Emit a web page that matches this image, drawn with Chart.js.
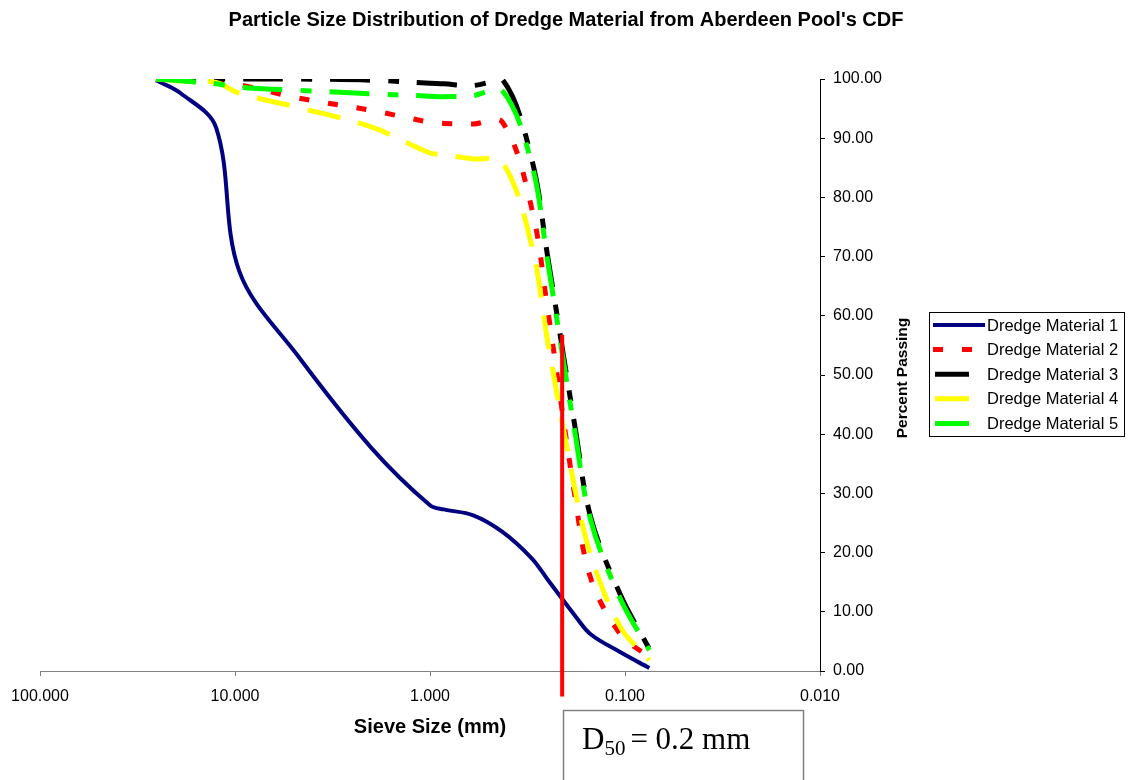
<!DOCTYPE html>
<html><head><meta charset="utf-8">
<script src="https://cdn.jsdelivr.net/npm/chart.js@4.4.0/dist/chart.umd.min.js"></script>
<style>html,body{margin:0;padding:0;background:#fff;} #wrap{position:relative;width:1132px;height:780px;}</style>
</head><body><div id="wrap"><canvas id="c" width="1132" height="780"></canvas></div>
<script>
// Sieve sizes (mm)
const sieveSizes = [25.4, 19.0, 12.5, 9.5, 4.75, 2.0, 1.0, 0.85, 0.6, 0.425, 0.3, 0.25, 0.18, 0.15, 0.106, 0.075];
// Percent passing per dredge material
const material1 = [99.8, 97.6, 91.8, 67.5, 53.2, 37.7, 28.0, 27.3, 26.3, 23.5, 19.0, 15.5, 9.3, 6.2, 3.2, 0.5];
const material2 = [100, 99.7, 99.3, 99.0, 96.8, 94.7, 92.7, 92.5, 92.4, 92.7, 78.0, 61.4, 29.2, 15.7, 6.3, 2.3];
const material3 = [100, 100, 100, 100, 100, 99.8, 99.3, 99.2, 98.9, 99.9, 86.3, 70.3, 41.0, 26.0, 13.0, 3.7];
const material4 = [100, 99.7, 99.4, 97.6, 95.2, 91.9, 87.5, 87.2, 86.5, 85.9, 71.7, 56.0, 30.5, 19.6, 7.5, 1.8];
const material5 = [100, 99.7, 99.2, 98.6, 98.1, 97.5, 97.1, 97.0, 97.2, 98.0, 85.5, 69.5, 40.0, 25.5, 12.3, 3.5];
const seriesNames = ['Dredge Material 1', 'Dredge Material 2', 'Dredge Material 3', 'Dredge Material 4', 'Dredge Material 5'];
// D50 marker line
const d50Size = [0.21, 0.21];
const d50Percent = [56.8, -4.3];
// Axis tick values
const xTickValues = [100, 10, 1, 0.1, 0.01];
const yTickMin = 0, yTickMax = 100, yTickStep = 10;

Chart.defaults.font.family = "'Liberation Sans', Arial, sans-serif";
Chart.defaults.color = '#000';

const toPts = (xs, ys) => xs.map((x, i) => ({x: x, y: ys[i]}));
const seriesData = [material1, material2, material3, material4, material5];
const seriesStyle = [
  {color: '#000080', width: 4, dash: []},
  {color: '#FF0000', width: 5, dash: [10, 19]},
  {color: '#000000', width: 5, dash: [40, 18, 11, 18]},
  {color: '#FFFF00', width: 5, dash: [34, 18]},
  {color: '#00FF00', width: 5, dash: [40, 18, 11, 18]}
];

const datasets = seriesData.map((vals, i) => ({
  label: seriesNames[i],
  data: toPts(sieveSizes, vals),
  borderColor: seriesStyle[i].color,
  backgroundColor: seriesStyle[i].color,
  borderWidth: seriesStyle[i].width,
  borderDash: seriesStyle[i].dash,
  borderCapStyle: 'butt',
  pointRadius: 0,
  tension: 0.35,
  fill: false,
  order: 5 - i
}));
datasets.push({
  label: 'D50',
  data: toPts(d50Size, d50Percent),
  borderColor: '#FF0000',
  borderWidth: 4,
  pointRadius: 0,
  tension: 0,
  fill: false,
  clip: false,
  order: 0
});

const overlayPlugin = {
  id: 'overlay',
  afterDraw(chart) {
    const ctx = chart.ctx;
    ctx.save();
    // legend
    ctx.strokeStyle = '#000';
    ctx.lineWidth = 1;
    ctx.setLineDash([]);
    ctx.strokeRect(929.5, 312.5, 195, 124);
    ctx.font = "16.5px 'Liberation Sans', Arial, sans-serif";
    ctx.textBaseline = 'middle';
    ctx.textAlign = 'left';
    for (let i = 0; i < seriesNames.length; i++) {
      const y = 325 + i * 24.6;
      const st = seriesStyle[i];
      ctx.beginPath();
      ctx.strokeStyle = st.color;
      ctx.lineWidth = st.width;
      ctx.lineCap = 'butt';
      ctx.setLineDash(st.dash);
      if (i === 0) { ctx.moveTo(933, y); ctx.lineTo(985, y); }
      else if (i === 1) { ctx.moveTo(933, y); ctx.lineTo(975, y); }
      else { ctx.moveTo(935, y); ctx.lineTo(969, y); }
      ctx.stroke();
      ctx.setLineDash([]);
      ctx.fillStyle = '#000';
      ctx.fillText(seriesNames[i], 987, y + 1);
    }
    // y-axis title
    ctx.save();
    ctx.translate(903, 378);
    ctx.rotate(-Math.PI / 2);
    ctx.font = "bold 15.5px 'Liberation Sans', Arial, sans-serif";
    ctx.textAlign = 'center';
    ctx.textBaseline = 'middle';
    ctx.fillText('Percent Passing', 0, 0);
    ctx.restore();
    // D50 box
    ctx.strokeStyle = '#808080';
    ctx.lineWidth = 1.5;
    ctx.strokeRect(563.5, 710.5, 240, 100);
    ctx.fillStyle = '#000';
    ctx.textAlign = 'left';
    ctx.textBaseline = 'alphabetic';
    ctx.font = "31px 'Liberation Serif', 'Times New Roman', serif";
    let x = 582;
    ctx.fillText('D', x, 749);
    x += ctx.measureText('D').width;
    ctx.font = "21px 'Liberation Serif', 'Times New Roman', serif";
    ctx.fillText('50', x, 755);
    x += ctx.measureText('50').width + 5;
    ctx.font = "31px 'Liberation Serif', 'Times New Roman', serif";
    ctx.fillText('= 0.2 mm', x, 749);
    ctx.restore();
  }
};

new Chart(document.getElementById('c'), {
  type: 'line',
  data: {datasets: datasets},
  options: {
    responsive: false,
    animation: false,
    layout: {padding: {left: 0, right: 0, top: 0, bottom: 0}},
    plugins: {
      legend: {display: false},
      tooltip: {enabled: false},
      title: {
        display: true,
        text: "Particle Size Distribution of Dredge Material from Aberdeen Pool's CDF",
        font: {size: 20, weight: 'bold'},
        color: '#000',
        padding: {top: 8, bottom: 47}
      }
    },
    scales: {
      x: {
        type: 'logarithmic',
        position: 'bottom',
        reverse: true,
        min: 0.01,
        max: 100,
        afterBuildTicks: (s) => { s.ticks = xTickValues.map(v => ({value: v})); },
        afterFit: (s) => { s.height = 109; s.paddingLeft = 40; },
        ticks: {
          font: {size: 16},
          color: '#000',
          padding: 11,
          maxRotation: 0,
          autoSkip: false,
          callback: (v) => Number(v).toFixed(3)
        },
        grid: {drawOnChartArea: false, drawTicks: true, tickLength: 5, color: '#808080'},
        border: {display: true, color: '#808080', width: 1},
        title: {
          display: true,
          text: 'Sieve Size (mm)',
          font: {size: 20, weight: 'bold'},
          color: '#000',
          padding: {top: 0, bottom: 41}
        }
      },
      y: {
        type: 'linear',
        position: 'right',
        min: yTickMin,
        max: yTickMax,
        afterFit: (s) => { s.width = 312; },
        ticks: {
          stepSize: yTickStep,
          font: {size: 16},
          color: '#000',
          padding: 8,
          callback: (v) => Number(v).toFixed(2)
        },
        grid: {drawOnChartArea: false, drawTicks: true, tickLength: 5, color: '#000'},
        border: {display: true, color: '#000', width: 1}
      }
    }
  },
  plugins: [overlayPlugin]
});
</script></body></html>
